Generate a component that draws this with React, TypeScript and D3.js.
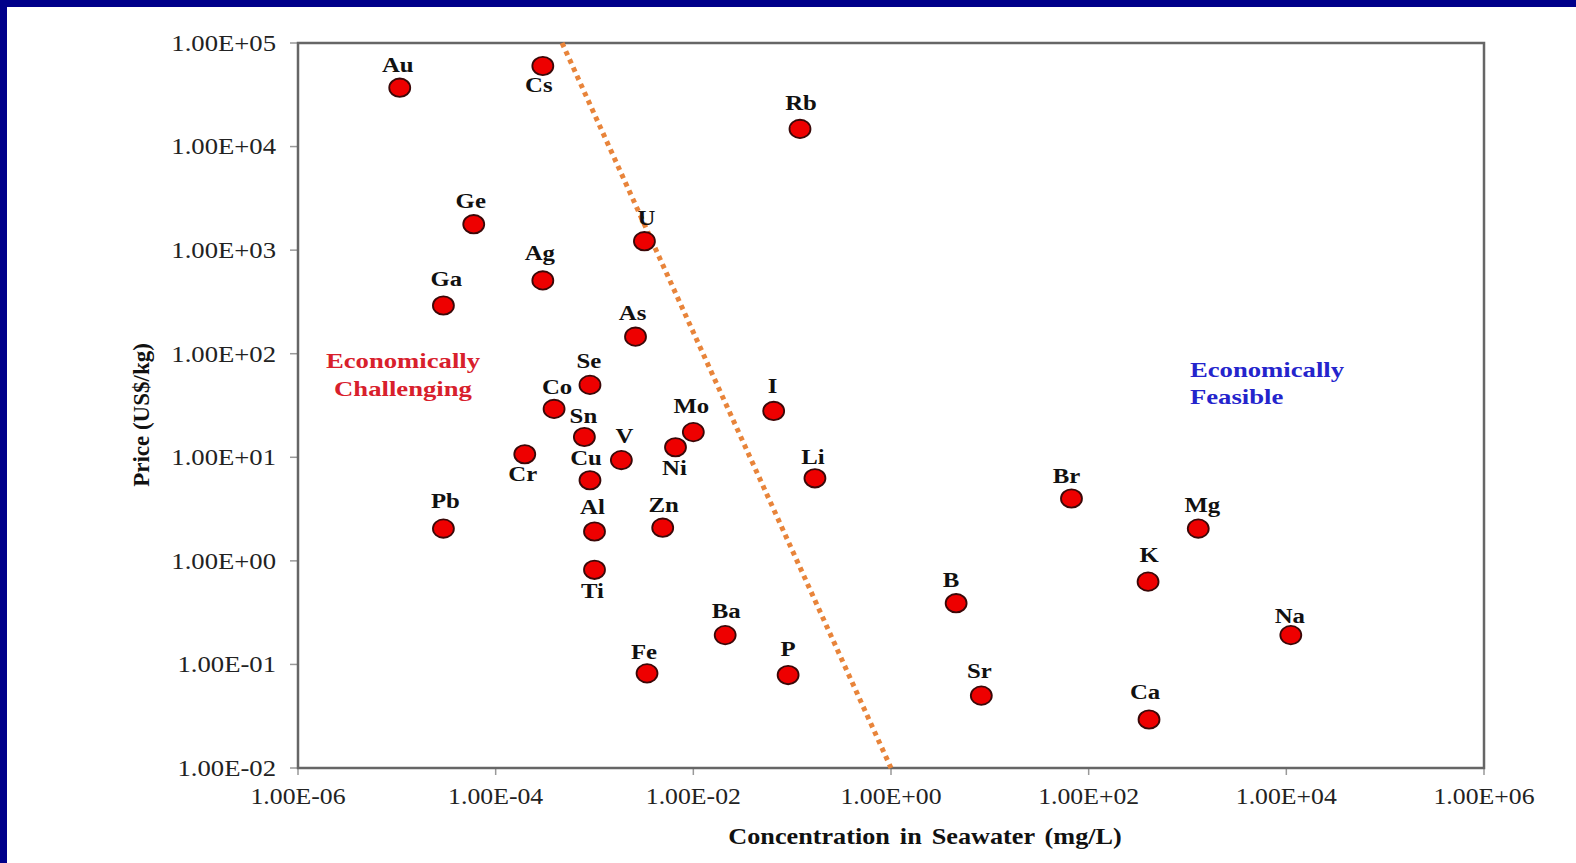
import React from "react";
import * as d3 from "d3";

// elements and their seawater concentration (mg/L) / price (US$/kg)
const elements = [
  "Au", "Cs", "Rb", "Ge", "U", "Ag", "Ga", "As", "Se", "Co", "Sn", "Cr", "V", "Cu", "Mo", "Ni",
  "I", "Li", "Pb", "Al", "Zn", "Ti", "Ba", "Fe", "P", "B", "Sr", "Br", "K", "Mg", "Ca", "Na",
];
const concentration = [
  1.07e-5, 3.0e-4, 0.12, 6.0e-5, 3.2e-3, 3.0e-4, 2.96e-5, 2.6e-3, 9.0e-4, 3.9e-4, 7.9e-4, 1.97e-4,
  1.87e-3, 9.0e-4, 0.01, 6.6e-3, 0.065, 0.17, 2.96e-5, 1.0e-3, 4.9e-3, 1.0e-3, 0.021, 3.4e-3,
  0.091, 4.56, 8.2, 67, 399, 1285, 408, 11100,
];
const price = [
  3.7e4, 6.0e4, 1.48e4, 1780, 1220, 510, 292, 146, 50, 29.3, 15.7, 10.7, 9.4, 6.0, 17.5, 12.5, 28,
  6.27, 2.05, 1.92, 2.09, 0.82, 0.192, 0.082, 0.079, 0.39, 0.05, 4.0, 0.63, 2.05, 0.0294, 0.192,
];

const xTicks = [1e-6, 1e-4, 1e-2, 1, 1e2, 1e4, 1e6];
const xTickLabels = ["1.00E-06", "1.00E-04", "1.00E-02", "1.00E+00", "1.00E+02", "1.00E+04", "1.00E+06"];
const yTicks = [1e-2, 1e-1, 1, 10, 100, 1e3, 1e4, 1e5];
const yTickLabels = ["1.00E-02", "1.00E-01", "1.00E+00", "1.00E+01", "1.00E+02", "1.00E+03", "1.00E+04", "1.00E+05"];

// dotted boundary between the two regions
const dividerConc = [4.7e-4, 1];
const dividerPrice = [1e5, 1e-2];

// label placement relative to the marker (px)
const labelOffset: Record<string, [number, number]> = {
  Au: [-2, -23], Cs: [-4, 19], Rb: [1, -26], Ge: [-3, -23], U: [2, -23], Ag: [-3, -27],
  Ga: [3, -26], As: [-3, -24], Se: [-1, -24], Co: [3, -22], Sn: [-1, -21], Cr: [-2, 20],
  V: [3, -24], Cu: [-4, -22], Mo: [-2, -26], Ni: [-1, 21], I: [-1, -25], Li: [-2, -21],
  Pb: [2, -27], Al: [-2, -24], Zn: [1, -23], Ti: [-2, 21], Ba: [1, -24], Fe: [-3, -21],
  P: [0, -26], B: [-5, -23], Sr: [-2, -24], Br: [-5, -22], K: [1, -26], Mg: [4, -23],
  Ca: [-4, -27], Na: [-1, -19],
};

const W = 1576;
const H = 863;
const plot = { left: 298, right: 1484, top: 43, bottom: 768 };
const serif = "'Liberation Serif', 'Times New Roman', serif";
const SX = 1.18;

export default function App() {
  const x = d3.scaleLog().domain([1e-6, 1e6]).range([plot.left, plot.right]);
  const y = d3.scaleLog().domain([1e-2, 1e5]).range([plot.bottom, plot.top]);

  const divider = d3
    .line<number>()
    .x((d, i) => x(dividerConc[i]))
    .y((d, i) => y(dividerPrice[i]))(dividerConc);

  return (
    <div style={{ position: "absolute", left: 0, top: 0 }}>
      <svg width={W} height={H} style={{ display: "block" }}>
        <rect x={0} y={0} width={W} height={H} fill="#fff" />
        <rect x={0} y={0} width={W} height={7} fill="#00008a" />
        <rect x={0} y={0} width={7} height={H} fill="#00008a" />

        {/* y ticks */}
        {yTicks.map((t, i) => (
          <g key={"y" + i}>
            <line x1={plot.left - 8} x2={plot.left} y1={y(t)} y2={y(t)} stroke="#999" strokeWidth={1.5} />
            <text
              transform={`translate(${plot.left - 22},${y(t)}) scale(1.16,1)`}
              textAnchor="end"
              dominantBaseline="central"
              fontFamily={serif}
              fontSize={23}
              fill="#222"
            >
              {yTickLabels[i]}
            </text>
          </g>
        ))}

        {/* x ticks */}
        {xTicks.map((t, i) => (
          <g key={"x" + i}>
            <line x1={x(t)} x2={x(t)} y1={plot.bottom} y2={plot.bottom + 7} stroke="#999" strokeWidth={1.5} />
            <text
              transform={`translate(${x(t)},${plot.bottom + 28}) scale(1.12,1)`}
              textAnchor="middle"
              dominantBaseline="central"
              fontFamily={serif}
              fontSize={23}
              fill="#222"
            >
              {xTickLabels[i]}
            </text>
          </g>
        ))}

        <rect
          x={plot.left}
          y={plot.top}
          width={plot.right - plot.left}
          height={plot.bottom - plot.top}
          fill="none"
          stroke="#666"
          strokeWidth={2.5}
        />

        <path d={divider || ""} fill="none" stroke="#e8843a" strokeWidth={5} strokeDasharray="4.5 4.5" />

        {elements.map((el, i) => {
          const cx = x(concentration[i]);
          const cy = y(price[i]);
          const [dx, dy] = labelOffset[el];
          return (
            <g key={el}>
              <ellipse cx={cx} cy={cy} rx={10.5} ry={9.2} fill="#ee0000" stroke="#3a0808" strokeWidth={1.8} />
              <text
                transform={`translate(${cx + dx},${cy + dy}) scale(${SX},1)`}
                textAnchor="middle"
                dominantBaseline="central"
                fontFamily={serif}
                fontWeight="bold"
                fontSize={21}
                fill="#111"
              >
                {el}
              </text>
            </g>
          );
        })}

        {/* region labels */}
        <g fontFamily={serif} fontWeight="bold" fontSize={21} fill="#d8202c">
          <text transform="translate(403,361) scale(1.27,1)" textAnchor="middle" dominantBaseline="central">
            Economically
          </text>
          <text transform="translate(403,389) scale(1.27,1)" textAnchor="middle" dominantBaseline="central">
            Challenging
          </text>
        </g>
        <g fontFamily={serif} fontWeight="bold" fontSize={21} fill="#2424cc">
          <text transform="translate(1190,370) scale(1.27,1)" dominantBaseline="central">
            Economically
          </text>
          <text transform="translate(1190,397) scale(1.27,1)" dominantBaseline="central">
            Feasible
          </text>
        </g>

        {/* axis titles */}
        <text
          transform={`translate(${(plot.left + plot.right) / 2 + 34},836) scale(1.14,1)`}
          textAnchor="middle"
          dominantBaseline="central"
          fontFamily={serif}
          fontWeight="bold"
          fontSize={23}
          fill="#111"
          style={{ wordSpacing: 3 }}
        >
          Concentration in Seawater (mg/L)
        </text>
        <text
          transform="translate(141,415) rotate(-90)"
          textAnchor="middle"
          dominantBaseline="central"
          fontFamily={serif}
          fontWeight="bold"
          fontSize={23}
          fill="#111"
        >
          Price (US$/kg)
        </text>
      </svg>
    </div>
  );
}
